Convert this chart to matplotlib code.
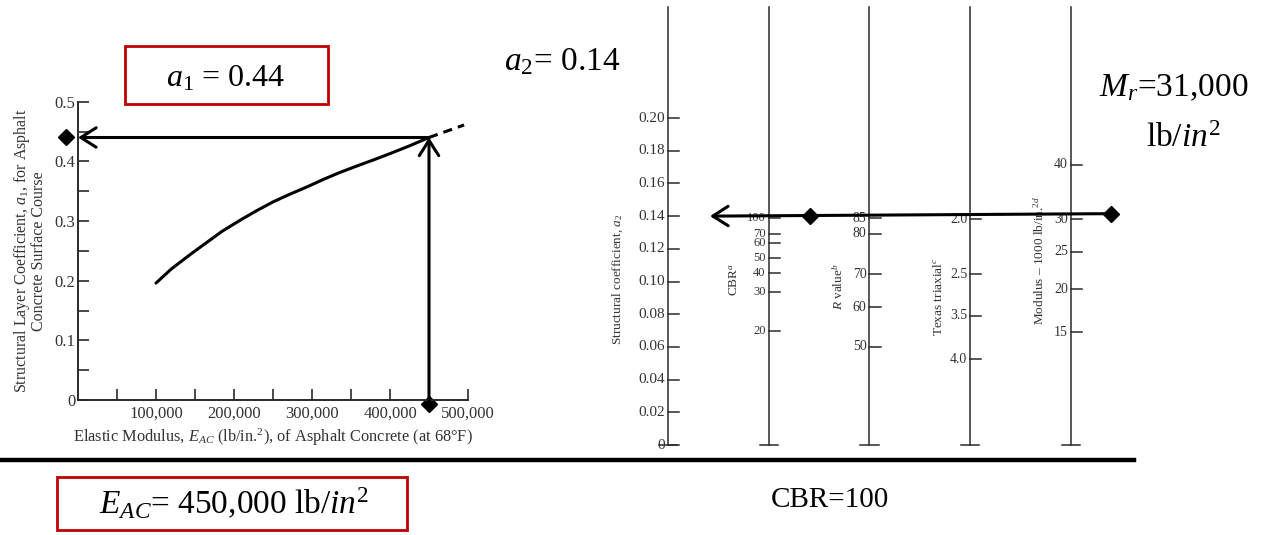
import numpy as np
import matplotlib
matplotlib.use("Agg")
import matplotlib.pyplot as plt
from matplotlib.patches import Rectangle
from matplotlib.lines import Line2D

plt.rcParams['font.family'] = ['Liberation Serif', 'DejaVu Serif']
plt.rcParams['mathtext.fontset'] = 'custom'
plt.rcParams['mathtext.rm'] = 'Liberation Serif'
plt.rcParams['mathtext.it'] = 'Liberation Serif:italic'

# --- layer coefficient a1 vs. elastic modulus of asphalt concrete
E_curve = [100000, 120000, 145000, 165000, 185000, 210000, 230000, 250000, 270000,
           295000, 315000, 335000, 355000, 380000, 400000, 425000, 450000]
a1_curve = [0.196, 0.220, 0.245, 0.264, 0.283, 0.303, 0.318, 0.332, 0.344,
            0.358, 0.370, 0.381, 0.391, 0.403, 0.413, 0.426, 0.44]
E_dash = [450000, 495000]
a1_dash = [0.44, 0.461]
E_ac = 450000
a1 = 0.44

# --- base course nomograph (scale positions expressed on the a2 scale)
a2_ticks = [0, 0.02, 0.04, 0.06, 0.08, 0.10, 0.12, 0.14, 0.16, 0.18, 0.20]
cbr_vals = [100, 70, 60, 50, 40, 30, 20]
cbr_pos = [0.1387, 0.1289, 0.1237, 0.1146, 0.1054, 0.0938, 0.0697]
rval_vals = [85, 80, 70, 60, 50]
rval_pos = [0.1387, 0.1292, 0.1044, 0.0842, 0.0601]
tex_vals = ['2.0', '2.5', '3.5', '4.0']
tex_pos = [0.1382, 0.1044, 0.0791, 0.0526]
mod_vals = [40, 30, 25, 20, 15]
mod_pos = [0.1713, 0.1382, 0.1182, 0.0954, 0.0689]
a2 = 0.14
Mr = 31  # 1000 lb/in^2
CBR = 100

W, H = 1262, 535
fig = plt.figure(figsize=(W / 100, H / 100), dpi=100)
fig.patch.set_facecolor('white')
ink = '#2a2a2a'
txt = '#333333'

# ================= left chart =================
ax1 = fig.add_axes([78 / W, (H - 400) / H, 390 / W, 298.3 / H])
ax1.set_xlim(0, 500000)
ax1.set_ylim(0, 0.5)
for s in ['top', 'right']:
    ax1.spines[s].set_visible(False)
for s in ['left', 'bottom']:
    ax1.spines[s].set_linewidth(1.4)
    ax1.spines[s].set_color(ink)

ax1.set_xticks(np.arange(100000, 500001, 100000))
ax1.set_xticklabels([f'{v:,}' for v in range(100000, 500001, 100000)])
ax1.set_xticks(np.arange(50000, 500000, 100000), minor=True)
ax1.set_yticks(np.arange(0, 0.51, 0.1))
ax1.set_yticklabels(['0', '0.1', '0.2', '0.3', '0.4', '0.5'])
ax1.set_yticks(np.arange(0.05, 0.5, 0.1), minor=True)
ax1.tick_params(which='both', direction='in', length=8, width=1.2,
                color=ink, labelcolor=txt, labelsize=12)
ax1.tick_params(axis='x', which='both', pad=4)
ax1.tick_params(axis='y', which='both', pad=2)

ax1.set_xlabel(r'Elastic Modulus, $E_{AC}$ (lb/in.$^2$), of Asphalt Concrete (at 68°F)',
               fontsize=11.8, color=txt, labelpad=4)
ax1.set_ylabel('Structural Layer Coefficient, $a_1$, for Asphalt\nConcrete Surface Course',
               fontsize=11.5, color=txt, labelpad=5, linespacing=0.95)

ax1.plot(E_curve, a1_curve, color='black', lw=2.2, solid_capstyle='round',
         solid_joinstyle='round')
ax1.plot(E_dash, a1_dash, color='black', lw=2.2, ls=(0, (3, 2)))

arrow = dict(arrowstyle='->,head_length=0.55,head_width=0.35', lw=2.2,
             color='black', mutation_scale=20, shrinkA=0, shrinkB=0)
ax1.annotate('', xy=(E_ac, a1), xytext=(E_ac, 0), arrowprops=arrow,
             annotation_clip=False)
ax1.annotate('', xy=(0, a1), xytext=(E_ac, a1), arrowprops=arrow,
             annotation_clip=False)
ax1.plot([-16000], [a1], marker='D', ms=8, color='black', clip_on=False)
ax1.plot([E_ac], [-0.006], marker='D', ms=8, color='black', clip_on=False)

# ================= right nomograph =================
ax2 = fig.add_axes([600 / W, (H - 460) / H, 540 / W, 460 / H])
ax2.set_xlim(-0.675, 4.685)
ax2.set_ylim(-0.00917, 0.2722)
ax2.axis('off')

scale_x = [0, 1, 2, 3, 4]
top = 0.268
tick_len = 0.11
foot = 0.09

for x in scale_x:
    ax2.plot([x, x], [0, top], color=ink, lw=1.1)
    ax2.plot([x - foot, x + foot], [0, 0], color=ink, lw=1.1)


def draw_scale(x, pos, labels, fs):
    for p, lab in zip(pos, labels):
        ax2.plot([x, x + tick_len], [p, p], color=ink, lw=1.1)
        ax2.text(x - 0.03, p, str(lab), ha='right', va='center',
                 fontsize=fs, color=txt)


draw_scale(0, a2_ticks, ['0' if v == 0 else f'{v:.2f}' for v in a2_ticks], 11)
draw_scale(1, cbr_pos, cbr_vals, 9)
draw_scale(2, rval_pos, rval_vals, 10)
draw_scale(3, tex_pos, tex_vals, 10)
draw_scale(4, mod_pos, mod_vals, 10)

lfs = 9.5
ax2.text(-0.5, 0.1015, 'Structural coefficient, $a_2$', rotation=90,
         ha='center', va='center', fontsize=lfs, color=txt)
ax2.text(1 - 0.34, 0.101, 'CBR$^a$', rotation=90,
         ha='center', va='center', fontsize=lfs, color=txt)
ax2.text(2 - 0.31, 0.0966, '$R$ value$^b$', rotation=90,
         ha='center', va='center', fontsize=lfs, color=txt)
ax2.text(3 - 0.32, 0.0905, 'Texas triaxial$^c$', rotation=90,
         ha='center', va='center', fontsize=lfs, color=txt)
ax2.text(4 - 0.31, 0.113, 'Modulus – 1000 lb/in.$^{2d}$', rotation=90,
         ha='center', va='center', fontsize=lfs, color=txt)

# turning line from the modulus scale back to the a2 scale
mr_y = np.interp(Mr, mod_vals[::-1], mod_pos[::-1])
x_start, x_tip = 4.40, 0.417
ax2.annotate('', xy=(x_tip, a2), xytext=(x_start, mr_y), arrowprops=arrow)
x_cbr_mark = 1.41
y_cbr_mark = np.interp(x_cbr_mark, [x_tip, x_start], [a2, mr_y])
ax2.plot([x_start, x_cbr_mark], [mr_y, y_cbr_mark], ls='none', marker='D',
         ms=8, color='black')

# ================= annotations =================
red = '#c00000'
fig.add_artist(Rectangle((125 / W, 1 - 104 / H), 203 / W, 58 / H,
                         transform=fig.transFigure, fill=False, ec=red, lw=2))
fig.add_artist(Rectangle((57 / W, 1 - 530 / H), 350 / W, 53 / H,
                         transform=fig.transFigure, fill=False, ec=red, lw=2))
fig.add_artist(Line2D([0, 1134 / W], [1 - 460 / H, 1 - 460 / H],
                      transform=fig.transFigure, color='black', lw=3.2))

fig.text(226 / W, 1 - 79 / H, f'$a_1$ = {a1:.2f}', ha='center', va='center',
         fontsize=23)
fig.text(562 / W, 1 - 62 / H, f'$a_2$= {a2:.2f}', ha='center', va='center',
         fontsize=24)
fig.text(1174 / W, 1 - 88 / H, f'$M_r$={Mr * 1000:,}', ha='center', va='center',
         fontsize=24)
fig.text(1183 / W, 1 - 139 / H, 'lb/$in^2$', ha='center', va='center',
         fontsize=24)
fig.text(234 / W, 1 - 504 / H, f'$E_{{AC}}$= {E_ac:,} lb/$in^2$', ha='center',
         va='center', fontsize=24)
fig.text(830 / W, 1 - 500 / H, f'CBR={CBR}', ha='center', va='center',
         fontsize=21)

fig.savefig('out.png', dpi=100)
